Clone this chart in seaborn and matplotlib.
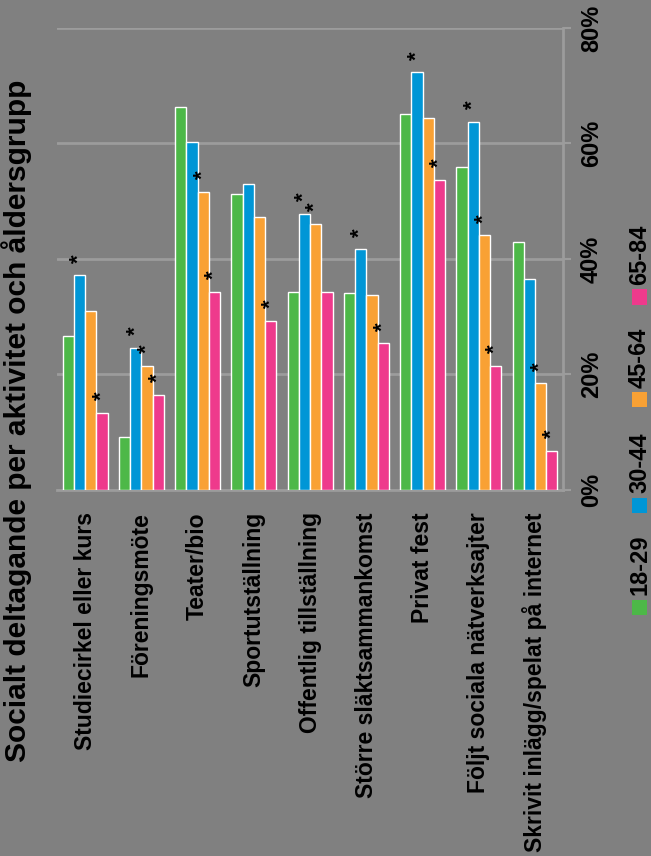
import pandas as pd
import matplotlib
matplotlib.use('Agg')
import matplotlib.pyplot as plt
from matplotlib.patches import Rectangle
import seaborn as sns

# Activities and age groups
aktiviteter = ['Studiecirkel eller kurs', 'Föreningsmöte', 'Teater/bio', 'Sportutställning',
               'Offentlig tillställning', 'Större släktsammankomst', 'Privat fest',
               'Följt sociala nätverksajter', 'Skrivit inlägg/spelat på internet']
grupper = ['18-29', '30-44', '45-64', '65-84']

# Share participating (%) per age group
v_18_29 = [26.7, 9.2, 66.3, 51.2, 34.3, 34.1, 65.1, 56.0, 42.9]
v_30_44 = [37.2, 24.6, 60.3, 53.0, 47.8, 41.7, 72.3, 63.8, 36.5]
v_45_64 = [31.0, 21.5, 51.6, 47.3, 46.1, 33.8, 64.4, 44.1, 18.5]
v_65_84 = [13.4, 16.5, 34.3, 29.3, 34.3, 25.4, 53.7, 21.5, 6.8]

# Significance stars (1 = marked with *)
s_18_29 = [0, 0, 0, 0, 0, 0, 0, 0, 0]
s_30_44 = [1, 1, 0, 0, 1, 1, 1, 1, 0]
s_45_64 = [0, 1, 1, 0, 1, 0, 0, 1, 1]
s_65_84 = [1, 1, 1, 1, 0, 1, 1, 1, 1]

y_ticks = [0, 20, 40, 60, 80]
y_ticklabels = ['0%', '20%', '40%', '60%', '80%']

colors = ['#4db848', '#0096d6', '#f9a134', '#ee3a8c']
bg = '#808080'
grid_col = '#9c9c9c'

values = [v_18_29, v_30_44, v_45_64, v_65_84]
stars = [s_18_29, s_30_44, s_45_64, s_65_84]
rows = []
for g, vals in zip(grupper, values):
    for a, v in zip(aktiviteter, vals):
        rows.append({'aktivitet': a, 'grupp': g, 'andel': v})
df = pd.DataFrame(rows)

sns.set_style('white')
plt.rcParams['font.family'] = ['Liberation Sans', 'DejaVu Sans']
plt.rcParams['font.weight'] = 'bold'
plt.rcParams['text.color'] = 'black'
plt.rcParams['xtick.labelcolor'] = 'black'
plt.rcParams['ytick.labelcolor'] = 'black'

fig = plt.figure(figsize=(6.51, 8.56), dpi=100, facecolor=bg)
ax = fig.add_axes([0.0876, 0.4276, 0.7774, 0.5397])
ax.set_facecolor(bg)

sns.barplot(data=df, x='aktivitet', y='andel', hue='grupp', order=aktiviteter,
            hue_order=grupper, palette=colors, saturation=1, width=0.8,
            legend=False, ax=ax, zorder=3)

# stars above marked bars
for cont, flags in zip(ax.containers, stars):
    for bar, f in zip(cont, flags):
        if f:
            ax.annotate('*', (bar.get_x() + bar.get_width() / 2, bar.get_height()),
                        xytext=(0, 9), textcoords='offset points', rotation=90,
                        ha='center', va='bottom', fontsize=16, color='black', zorder=4)

ax.set_ylim(0, 80)
ax.set_xlim(-0.5, len(aktiviteter) - 0.5)
ax.set_yticks(y_ticks)
ax.set_yticklabels(y_ticklabels, rotation=90, va='center', fontsize=17, fontweight='bold')
ax.yaxis.tick_right()
ax.tick_params(axis='y', length=6, color=grid_col, width=1.5, pad=6)
ax.set_xticks(range(len(aktiviteter)))
ax.set_xticklabels(aktiviteter, rotation=90, fontsize=16.5, fontweight='bold')
ax.set_xticks([i - 0.5 for i in range(len(aktiviteter) + 1)], minor=True)
ax.tick_params(axis='x', which='major', length=0, pad=16)
ax.tick_params(axis='x', which='minor', length=6, color=grid_col, width=1.5)
ax.grid(axis='y', color=grid_col, linewidth=2, zorder=0)
ax.set_xlabel('')
ax.set_ylabel('')
for side in ['left', 'top']:
    ax.spines[side].set_visible(False)
for side in ['right', 'bottom']:
    ax.spines[side].set_color(grid_col)
    ax.spines[side].set_linewidth(2)

fig.text(0.026, 1 - 421 / 856, 'Socialt deltagande per aktivitet och åldersgrupp',
         rotation=90, ha='center', va='center', fontsize=21.5, fontweight='bold')

# legend drawn rotated, bottom to top
leg_y = [607, 505, 400, 297]
for g, c, yy in zip(grupper, colors, leg_y):
    fig.patches.append(Rectangle((632 / 651, 1 - (yy + 7.5) / 856), 15 / 651, 15 / 856,
                                 transform=fig.transFigure, facecolor=c, edgecolor='none'))
    fig.text(639.5 / 651, 1 - (yy - 12) / 856, g, rotation=90, ha='center', va='bottom',
             fontsize=17, fontweight='bold')

fig.savefig('out.png', dpi=100, facecolor=bg)
